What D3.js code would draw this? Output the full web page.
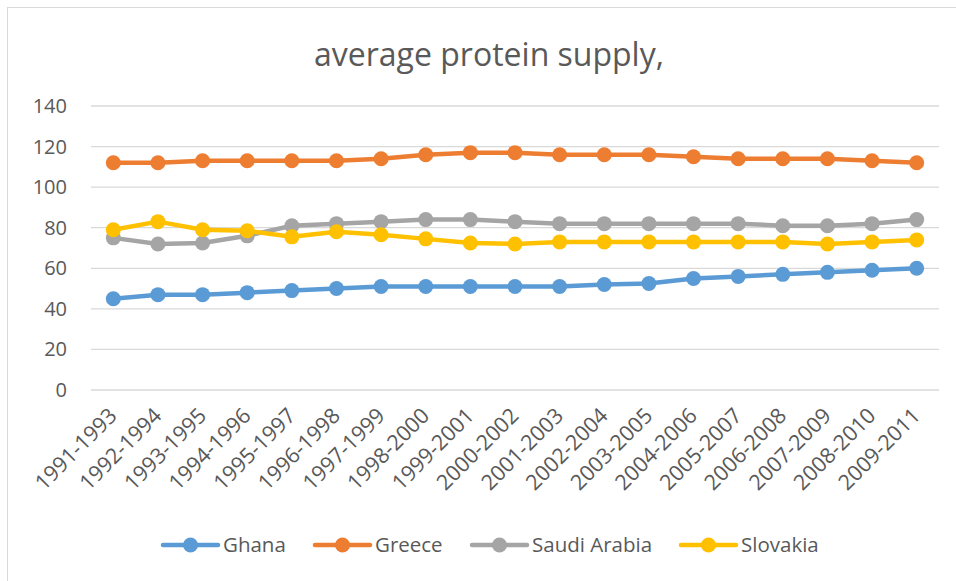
<!DOCTYPE html>
<html>
<head>
<meta charset="utf-8">
<script src="https://cdn.jsdelivr.net/npm/d3@7"></script>
<style>
  body { margin: 0; background: #fff; }
  text { font-family: "Open Sans", "Noto Sans", sans-serif; fill: #595959; }
</style>
</head>
<body>
<svg id="chart"></svg>
<script>
const periods = ["1991-1993", "1992-1994", "1993-1995", "1994-1996", "1995-1997", "1996-1998",
    "1997-1999", "1998-2000", "1999-2001", "2000-2002", "2001-2003", "2002-2004", "2003-2005",
    "2004-2006", "2005-2007", "2006-2008", "2007-2009", "2008-2010", "2009-2011"]
const ghana    = [45, 47, 47, 48, 49, 50, 51, 51, 51, 51, 51, 52, 52.5, 55, 56, 57, 58, 59, 60]
const greece   = [112, 112, 113, 113, 113, 113, 114, 116, 117, 117, 116, 116, 116, 115, 114, 114, 114, 113, 112]
const saudi    = [75, 72, 72.5, 76, 81, 82, 83, 84, 84, 83, 82, 82, 82, 82, 82, 81, 81, 82, 84]
const slovakia = [79, 83, 79, 78.5, 75.5, 78, 76.5, 74.5, 72.5, 72, 73, 73, 73, 73, 73, 73, 72, 73, 74]
const seriesNames = ["Ghana", "Greece", "Saudi Arabia", "Slovakia"]
const yTicks = [0, 20, 40, 60, 80, 100, 120, 140]

const width = 956, height = 581
const colors = ["#5B9BD5", "#ED7D31", "#A5A5A5", "#FFC000"]
const seriesValues = [ghana, greece, saudi, slovakia]

const svg = d3.select("#chart")
    .attr("width", width)
    .attr("height", height)

// chart frame
svg.append("rect")
    .attr("x", 7.5).attr("y", 7.5)
    .attr("width", 980).attr("height", 620)
    .attr("fill", "none")
    .attr("stroke", "#d9d9d9")

svg.append("text")
    .attr("x", 489).attr("y", 66)
    .attr("text-anchor", "middle")
    .style("font-size", "32px")
    .text("average protein supply,")

const x = d3.scalePoint()
    .domain(periods)
    .range([91, 939])
    .padding(0.5)

const y = d3.scaleLinear()
    .domain([0, 140])
    .range([390, 106])

// gridlines
svg.append("g")
    .selectAll("line")
    .data(yTicks)
    .enter()
    .append("line")
    .attr("x1", 91).attr("x2", 939)
    .attr("y1", d => y(d)).attr("y2", d => y(d))
    .attr("stroke", "#d9d9d9")
    .attr("stroke-width", 1.3)

// y labels
svg.append("g")
    .selectAll("text")
    .data(yTicks)
    .enter()
    .append("text")
    .attr("x", 67)
    .attr("y", d => y(d))
    .attr("dy", "0.35em")
    .attr("text-anchor", "end")
    .style("font-size", "20px")
    .text(d => d)

// x labels
svg.append("g")
    .selectAll("text")
    .data(periods)
    .enter()
    .append("text")
    .attr("text-anchor", "end")
    .attr("transform", d => `translate(${x(d) + 5},${417}) rotate(-45)`)
    .style("font-size", "21.5px")
    .text(d => d)

const line = d3.line()
    .x((d, i) => x(periods[i]))
    .y(d => y(d))

seriesValues.forEach((vals, s) => {
    const g = svg.append("g")
    g.append("path")
        .datum(vals)
        .attr("d", line)
        .attr("fill", "none")
        .attr("stroke", colors[s])
        .attr("stroke-width", 4.5)
        .attr("stroke-linejoin", "round")
        .attr("stroke-linecap", "round")
    g.selectAll("circle")
        .data(vals)
        .enter()
        .append("circle")
        .attr("cx", (d, i) => x(periods[i]))
        .attr("cy", d => y(d))
        .attr("r", 7.5)
        .attr("fill", colors[s])
})

// legend
const legendX = [163, 315, 472, 681]
const legend = svg.append("g")
seriesNames.forEach((name, s) => {
    const lg = legend.append("g").attr("transform", `translate(${legendX[s]},545)`)
    lg.append("line")
        .attr("x1", 0).attr("x2", 55)
        .attr("stroke", colors[s])
        .attr("stroke-width", 4.5)
        .attr("stroke-linecap", "round")
    lg.append("circle")
        .attr("cx", 27.5).attr("r", 7.5)
        .attr("fill", colors[s])
    lg.append("text")
        .attr("x", 60)
        .attr("dy", "0.35em")
        .style("font-size", "20.5px")
        .text(name)
})
</script>
</body>
</html>
